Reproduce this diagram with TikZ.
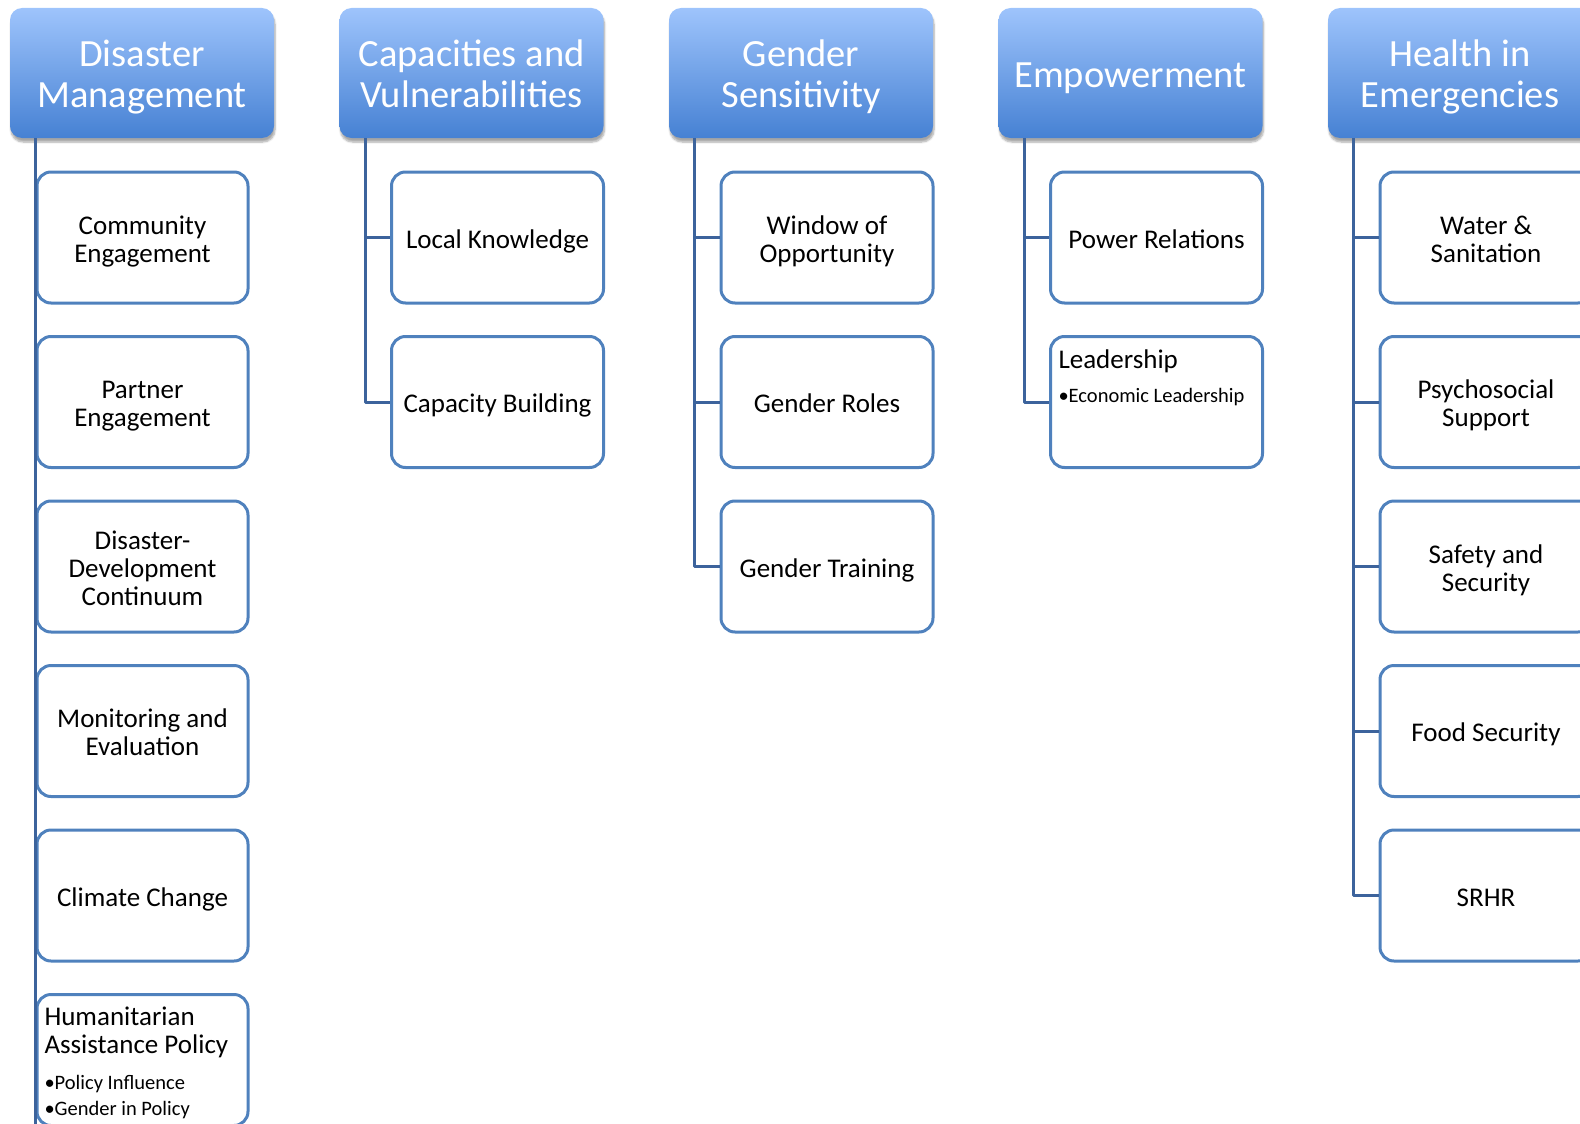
\documentclass[tikz,border=0pt]{standalone}
\usepackage{fontspec}
\setmainfont{Carlito}
\usetikzlibrary{shadows.blur}
\definecolor{headtop}{RGB}{158,196,252}
\definecolor{headbot}{RGB}{70,129,211}
\definecolor{boxline}{RGB}{79,129,189}
\definecolor{connline}{RGB}{60,99,156}
% centred lines, lowered a little inside the box
\newcommand\stack[2][-5pt]{\raisebox{#1}[\height][\depth]{\begin{tabular}{@{}c@{}}#2\end{tabular}}}
\begin{document}
\begin{tikzpicture}[x=1pt,y=-1pt,line join=round,
  head/.style={rounded corners=12pt,top color=headtop,bottom color=headbot,minimum width=264pt,minimum height=130pt,
    text=white,font=\fontsize{38.5}{41}\selectfont,
    blur shadow={shadow xshift=1pt,shadow yshift=-4pt,shadow opacity=35,shadow blur steps=6}},
  item/.style={draw=boxline,line width=3pt,rounded corners=14pt,fill=white,minimum width=212pt,minimum height=131pt,
    font=\fontsize{27}{28}\selectfont},
  conn/.style={draw=connline,line width=3pt}]
  \useasboundingbox (0,0) rectangle (1580,1124);

  % top row
  \node[head] (dm) at (142,73) {\stack[-6pt]{Disaster\\Management}};
  \node[head] (cv) at (471.5,73) {\stack[-6pt]{Capacities and\\Vulnerabilities}};
  \node[head] (gs) at (801,73) {\stack[-6pt]{Gender\\Sensitivity}};
  \node[head] (em) at (1130.5,73) {\stack[-6pt]{Empowerment}};
  \node[head] (he) at (1460,73) {\stack[-6pt]{Health in\\Emergencies}};

  % Disaster Management
  \node[item,minimum width=211pt] (ce) at (142.5,237.5) {\stack{Community\\Engagement}};
  \node[item,minimum width=211pt] (pe) at (142.5,402) {\stack{Partner\\Engagement}};
  \node[item,minimum width=211pt] (dd) at (142.5,566.5) {\stack{Disaster-\\Development\\Continuum}};
  \node[item,minimum width=211pt] (me) at (142.5,731) {\stack{Monitoring and\\Evaluation}};
  \node[item,minimum width=211pt] (cc) at (142.5,895.5) {\stack{Climate Change}};
  \node[item,minimum width=211pt] (hp) at (142.5,1060) {\parbox[t][111pt][t]{196pt}{\raggedright\rule{0pt}{21pt}Humanitarian\\Assistance Policy\par
    \vspace{10pt}{\fontsize{20.5}{26}\selectfont •Policy Influence\\•Gender in Policy\par}}};

  % Capacities and Vulnerabilities
  \node[item] (lk) at (497.5,237.5) {\stack{Local Knowledge}};
  \node[item] (cb) at (497.5,402) {\stack{Capacity Building}};

  % Gender Sensitivity
  \node[item] (wo) at (827,237.5) {\stack{Window of\\Opportunity}};
  \node[item] (gr) at (827,402) {\stack{Gender Roles}};
  \node[item] (gt) at (827,566.5) {\stack{Gender Training}};

  % Empowerment
  \node[item] (pr) at (1156.5,237.5) {\stack{Power Relations}};
  \node[item] (ld) at (1156.5,402) {\parbox[t][111pt][t]{196pt}{\raggedright\rule{0pt}{22pt}Leadership\par
    \vspace{11pt}{\fontsize{20.5}{23}\selectfont •Economic Leadership\par}}};

  % Health in Emergencies
  \node[item] (ws) at (1486,237.5) {\stack{Water \&\\Sanitation}};
  \node[item] (ps) at (1486,402) {\stack{Psychosocial\\Support}};
  \node[item] (ss) at (1486,566.5) {\stack{Safety and\\Security}};
  \node[item] (fs) at (1486,731) {\stack{Food Security}};
  \node[item] (sr) at (1486,895.5) {\stack{SRHR}};

  % connectors
  \draw[conn] ([xshift=26pt]dm.south west) -- ++(0,1000);
  \draw[conn] ([xshift=26pt]cv.south west) |- (lk.west);
  \draw[conn] ([xshift=26pt]cv.south west) |- (cb.west);
  \draw[conn] ([xshift=26pt]gs.south west) |- (wo.west);
  \draw[conn] ([xshift=26pt]gs.south west) |- (gr.west);
  \draw[conn] ([xshift=26pt]gs.south west) |- (gt.west);
  \draw[conn] ([xshift=26pt]em.south west) |- (pr.west);
  \draw[conn] ([xshift=26pt]em.south west) |- (ld.west);
  \draw[conn] ([xshift=26pt]he.south west) |- (ws.west);
  \draw[conn] ([xshift=26pt]he.south west) |- (ps.west);
  \draw[conn] ([xshift=26pt]he.south west) |- (ss.west);
  \draw[conn] ([xshift=26pt]he.south west) |- (fs.west);
  \draw[conn] ([xshift=26pt]he.south west) |- (sr.west);
\end{tikzpicture}
\end{document}
